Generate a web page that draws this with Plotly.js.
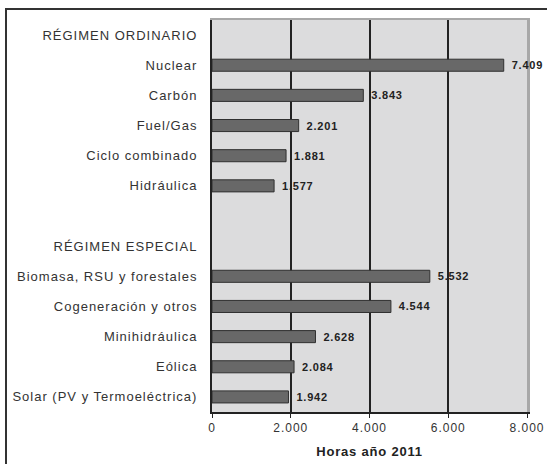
<!DOCTYPE html>
<html>
<head>
<meta charset="utf-8">
<script src="https://cdn.plot.ly/plotly-3.0.1.min.js"></script>
<style>
html,body{margin:0;padding:0;background:#fff;overflow:hidden;}
#frame{position:absolute;left:5px;top:8px;width:700px;height:700px;border-left:2px solid #333;border-top:2px solid #333;}
#chart{position:absolute;left:0;top:0;width:547px;height:464px;}
#chart .ytick text{letter-spacing:1px;}
#chart .xtick text{letter-spacing:1px;}
#chart .bartext{letter-spacing:0.8px;}
#chart .g-xtitle text{letter-spacing:0.8px;}
</style>
</head>
<body>
<div id="frame"></div>
<div id="chart"></div>
<script>
var categories = [
  "RÉGIMEN ORDINARIO", "Nuclear", "Carbón", "Fuel/Gas", "Ciclo combinado", "Hidráulica",
  " ",
  "RÉGIMEN ESPECIAL", "Biomasa, RSU y forestales", "Cogeneración y otros", "Minihidráulica", "Eólica", "Solar (PV y Termoeléctrica)"
];
var hours2011 = [null, 7409, 3843, 2201, 1881, 1577, null, null, 5532, 4544, 2628, 2084, 1942];
var xTicks = [0, 2000, 4000, 6000, 8000];

var trace = {
  type: "bar",
  orientation: "h",
  y: categories,
  x: hours2011,
  width: 0.4,
  marker: {color: "#686868", line: {color: "#303030", width: 1}},
  texttemplate: "\u00a0\u00a0%{x:,d}",
  textposition: "outside",
  cliponaxis: false,
  textfont: {family: "Liberation Sans, Arial, sans-serif", size: 11, color: "#222", weight: "bold"},
  hoverinfo: "skip"
};

// empty helper trace so the frame axes (top / right border) are drawn
var frameTrace = {
  type: "scatter", mode: "markers", x: [], y: [],
  xaxis: "x2", yaxis: "y2", hoverinfo: "skip", showlegend: false
};

var layout = {
  width: 547, height: 464,
  margin: {l: 212, r: 20, t: 20, b: 52, pad: 0},
  paper_bgcolor: "rgba(0,0,0,0)",
  plot_bgcolor: "#dcdcdd",
  separators: ",.",
  showlegend: false,
  font: {family: "Liberation Sans, Arial, sans-serif", color: "#333"},
  xaxis: {
    range: [0, 8000],
    tickvals: xTicks,
    tickformat: ",d",
    ticks: "outside", ticklen: 4, tickwidth: 1, tickcolor: "#222",
    showgrid: true, gridcolor: "#222", gridwidth: 2,
    zeroline: false,
    showline: true, linecolor: "#222", linewidth: 2,
    tickfont: {size: 12, color: "#333"},
    title: {text: "Horas año 2011", font: {size: 13, color: "#222", weight: "bold"}, standoff: 12},
    fixedrange: true
  },
  xaxis2: {
    overlaying: "x", side: "top", anchor: "y2",
    showline: true, linecolor: "#a8a8a8", linewidth: 2,
    showgrid: false, zeroline: false, showticklabels: false, ticks: "",
    layer: "below traces", fixedrange: true
  },
  yaxis: {
    type: "category",
    autorange: "reversed",
    showgrid: false, zeroline: false,
    showline: true, linecolor: "#222", linewidth: 2,
    ticks: "", ticklabelstandoff: 10,
    tickfont: {size: 13, color: "#333"},
    fixedrange: true
  },
  yaxis2: {
    overlaying: "y", side: "right", anchor: "x2",
    showline: true, linecolor: "#a8a8a8", linewidth: 3,
    showgrid: false, zeroline: false, showticklabels: false, ticks: "",
    layer: "below traces", fixedrange: true
  },
  bargap: 0.6
};

Plotly.newPlot("chart", [trace, frameTrace], layout, {displayModeBar: false, staticPlot: true});
</script>
</body>
</html>
